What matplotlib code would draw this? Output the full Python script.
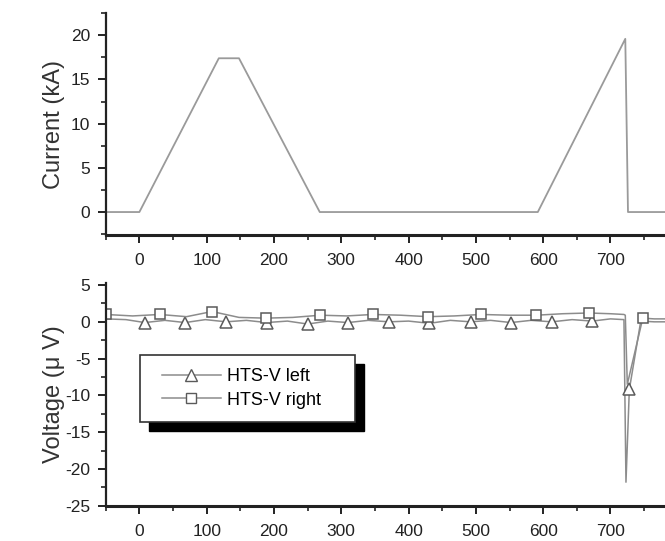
import matplotlib
matplotlib.use("Agg")
import matplotlib.pyplot as plt
from matplotlib.patches import Rectangle
from matplotlib.lines import Line2D
from matplotlib.ticker import MultipleLocator

plt.rcParams['font.family'] = ['Liberation Sans', 'DejaVu Sans']
plt.rcParams['axes.unicode_minus'] = False

# current (kA) vs time
t_cur = [-50, 0, 118, 148, 268, 592, 722, 726, 781]
i_cur = [0, 0, 17.4, 17.4, 0, 0, 19.6, 0, 0]

# HTS-V left (triangles)
x_left = [-50, -20, 8, 38, 68, 98, 129, 159, 189, 220, 250, 280, 310, 340,
          371, 400, 431, 462, 492, 522, 552, 582, 613, 643, 673, 700, 720,
          723, 728, 745, 765, 781]
v_left = [0.4, 0.3, -0.1, 0.2, -0.1, 0.3, 0.0, 0.2, -0.1, 0.1, -0.3, 0.1,
          -0.1, 0.2, 0.0, 0.1, -0.2, 0.2, 0.0, 0.2, -0.1, 0.2, 0.0, 0.3,
          0.1, 0.4, 0.3, -21.8, -9.2, 0.1, 0.0, 0.0]
mk_left = [2, 4, 6, 8, 10, 12, 14, 16, 18, 20, 22, 24, 28]

# HTS-V right (squares)
x_right = [-50, -10, 30, 70, 108, 148, 188, 228, 269, 308, 347, 388, 429,
           468, 508, 549, 590, 629, 668, 700, 720, 722, 725, 748, 765, 781]
v_right = [1.0, 0.8, 1.0, 0.7, 1.4, 0.6, 0.5, 0.6, 0.9, 0.8, 1.0, 0.9, 0.7,
           0.8, 1.0, 0.9, 0.9, 1.1, 1.2, 1.1, 1.0, 0.9, -8.5, 0.5, 0.4, 0.4]
mk_right = [0, 2, 4, 6, 8, 10, 12, 14, 16, 18, 23]

fig = plt.figure(figsize=(6.65, 5.41), dpi=100)
ax1 = fig.add_axes([0.159, 0.5656, 0.841, 0.41])
ax2 = fig.add_axes([0.159, 0.0652, 0.841, 0.412])

line_col = '#8c8c8c'
mk_col = '#5a5a5a'


def style(ax):
    for s in ['top', 'right']:
        ax.spines[s].set_visible(False)
    ax.spines['left'].set_linewidth(1.6)
    ax.spines['bottom'].set_linewidth(2.2)
    ax.spines['left'].set_color('#222222')
    ax.spines['bottom'].set_color('#222222')
    ax.set_xlim(-50, 781)
    ax.xaxis.set_major_locator(MultipleLocator(100))
    ax.xaxis.set_minor_locator(MultipleLocator(50))
    ax.yaxis.set_major_locator(MultipleLocator(5))
    ax.yaxis.set_minor_locator(MultipleLocator(2.5))
    ax.tick_params(which='major', direction='out', length=6, width=1.4,
                   labelsize=12.5, colors='#222222', pad=5)
    ax.tick_params(which='minor', direction='out', length=3.5, width=1.2,
                   colors='#222222')
    ax.tick_params(axis='x', which='major', pad=7)


style(ax1)
ax1.plot(t_cur, i_cur, color='#9a9a9a', lw=1.3)
ax1.set_ylim(-2.6, 22.5)
ax1.set_ylabel('Current (kA)', fontsize=17, color='#333333', labelpad=4)

style(ax2)
ax2.plot(x_left, v_left, color=line_col, lw=1.1, marker='^', markersize=8,
         markerfacecolor='white', markeredgecolor=mk_col, markeredgewidth=1.1,
         markevery=mk_left)
ax2.plot(x_right, v_right, color=line_col, lw=1.1, marker='s', markersize=7.5,
         markerfacecolor='white', markeredgecolor=mk_col, markeredgewidth=1.1,
         markevery=mk_right)
ax2.set_ylim(-25, 5.3)
ax2.set_ylabel('Voltage (\u03bc V)', fontsize=17, color='#333333', labelpad=0)

# legend box with black drop shadow
ax2.add_patch(Rectangle((0.077, 0.336), 0.384, 0.301, transform=ax2.transAxes,
                        facecolor='black', edgecolor='black', zorder=4))
ax2.add_patch(Rectangle((0.061, 0.376), 0.384, 0.301, transform=ax2.transAxes,
                        facecolor='white', edgecolor='#333333', lw=1.2, zorder=5))
handles = [
    Line2D([], [], color=line_col, lw=1.1, marker='^', markersize=8,
           markerfacecolor='white', markeredgecolor=mk_col),
    Line2D([], [], color=line_col, lw=1.1, marker='s', markersize=7.5,
           markerfacecolor='white', markeredgecolor=mk_col),
]
leg = ax2.legend(handles, ['HTS-V left', 'HTS-V right'], frameon=False,
                 loc='center', bbox_to_anchor=(0.05, 0.376, 0.384, 0.301),
                 bbox_transform=ax2.transAxes, fontsize=13, handlelength=3.3,
                 handletextpad=0.3, labelspacing=0.35)
leg.set_zorder(6)

fig.savefig('out.png', dpi=100)
